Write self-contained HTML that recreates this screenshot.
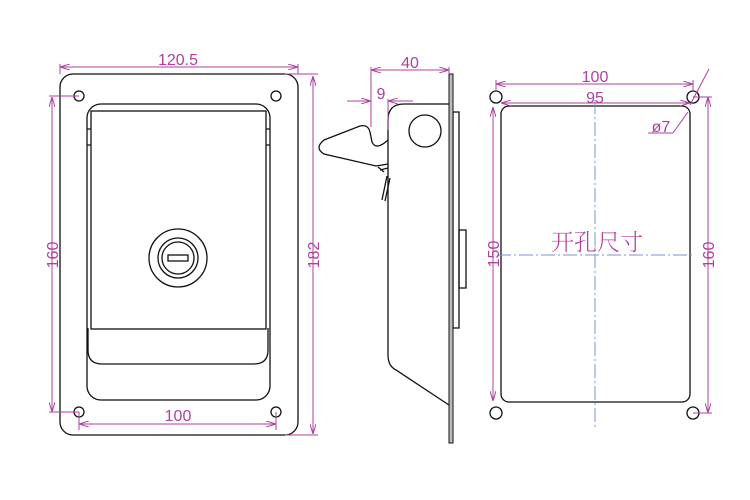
<!DOCTYPE html>
<html><head><meta charset="utf-8"><style>body{margin:0;background:#fff}svg{display:block}</style></head><body>
<svg width="750" height="500" viewBox="0 0 750 500" xmlns="http://www.w3.org/2000/svg">
<defs>
<marker id="a" viewBox="0 0 10 6" refX="10" refY="3" markerWidth="10" markerHeight="6" orient="auto-start-reverse" markerUnits="userSpaceOnUse"><path d="M0,0L10,3L0,6" fill="none" stroke="#b0409f" stroke-width="1"/></marker>
</defs>
<g fill="none" stroke="#111" stroke-width="1.3">
<rect x="60" y="74" width="238" height="361" rx="13"/>
<circle cx="79" cy="96" r="5"/><circle cx="276" cy="96" r="5"/>
<circle cx="79" cy="412" r="5"/><circle cx="276" cy="412" r="5"/>
<rect x="87" y="104" width="183" height="296" rx="14"/>
<rect x="91" y="111" width="175" height="218"/>
<path d="M87,129H91M87,145H91M266,129H270M266,145H270"/>
<path d="M88,328V350Q88,364 102,364H254Q268,364 268,350V328"/>
<circle cx="178" cy="258" r="29"/><circle cx="178" cy="258" r="20"/><circle cx="178" cy="258" r="16"/>
<rect x="168" y="255" width="20" height="6"/>
<path d="M388,355V120Q388,104 404,104H449"/>
<path d="M388,355Q388,366 396,370L449,405"/>
<circle cx="425" cy="131" r="16"/>
<path d="M388,140Q376,151 372,142L370,132Q368,124 360,126L324,140Q314,148 324,154L376,166L388,164"/>
<path d="M378,167L384,172M380,170L388,168M382,200L387,176M385,201L390,178"/>
<rect x="453" y="112" width="6" height="216"/>
<rect x="459" y="230" width="7" height="58"/>
<rect x="501" y="106" width="189" height="296" rx="8"/>
<circle cx="496" cy="97" r="6"/><circle cx="693" cy="97" r="6"/>
<circle cx="496" cy="413" r="6"/><circle cx="693" cy="413" r="6"/>
</g>
<rect x="449" y="74" width="4" height="369" fill="#bbb" stroke="#111" stroke-width="1"/>
<g stroke="#7b93d8" stroke-width="1" stroke-dasharray="14,3,2,3">
<path d="M595,100V430M497,255H693"/>
</g>
<g fill="none" stroke="#b0409f" stroke-width="1">
<path d="M60,67H298" marker-start="url(#a)" marker-end="url(#a)"/>
<path d="M60,64V74M298,64V74"/>
<path d="M52,97V412" marker-start="url(#a)" marker-end="url(#a)"/>
<path d="M49,96H79M49,412H79"/>
<path d="M313,76V434" marker-start="url(#a)" marker-end="url(#a)"/>
<path d="M285,74H318M285,435H318"/>
<path d="M79,424H276" marker-start="url(#a)" marker-end="url(#a)"/>
<path d="M79,412V430M276,412V430"/>
<path d="M371,70H449" marker-start="url(#a)" marker-end="url(#a)"/>
<path d="M371,67V127M449,67V74"/>
<path d="M347,101H371" marker-end="url(#a)"/>
<path d="M413,101H388" marker-end="url(#a)"/>
<path d="M388,99V130"/>
<path d="M496,84H693" marker-start="url(#a)" marker-end="url(#a)"/>
<path d="M496,80V92M693,80V92"/>
<path d="M501,103H690" marker-start="url(#a)" marker-end="url(#a)"/>
<path d="M493,107V401" marker-start="url(#a)" marker-end="url(#a)"/>
<path d="M708,97V413" marker-start="url(#a)" marker-end="url(#a)"/>
<path d="M693,97H712M693,413H712"/>
<path d="M709,69L690,105" />
<path d="M688,112L673,133H648"/>
</g>
<g fill="#b0409f" font-family="Liberation Sans, sans-serif" font-size="16" text-anchor="middle">
<text x="178" y="65">120.5</text>
<text x="178" y="421">100</text>
<text transform="translate(58,255) rotate(-90)">160</text>
<text transform="translate(319,255) rotate(-90)">182</text>
<text x="410" y="68">40</text>
<text x="381" y="99">9</text>
<text x="595" y="82">100</text>
<text x="595" y="103">95</text>
<text transform="translate(499,254) rotate(-90)">150</text>
<text transform="translate(714,255) rotate(-90)">160</text>
<text x="661" y="132">ø7</text>
<text x="597" y="250" font-family="Noto Serif CJK SC, Noto Sans CJK SC, serif" font-size="23" font-weight="300">开孔尺寸</text>
</g>
</svg>
</body></html>
